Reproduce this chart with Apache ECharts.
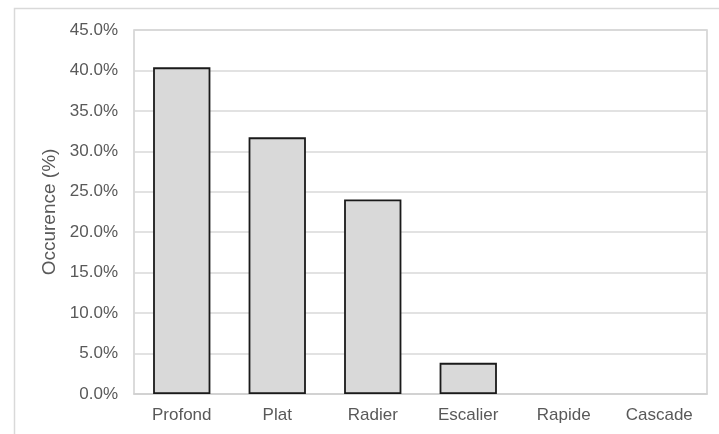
<!DOCTYPE html>
<html>
<head>
<meta charset="utf-8">
<script src="https://cdn.jsdelivr.net/npm/echarts@6/dist/echarts.min.js"></script>
<style>
  html, body { margin: 0; padding: 0; background: #ffffff; }
  #chart { width: 719px; height: 434px; }
</style>
</head>
<body>
<div id="chart"></div>
<script>
// Types d'écoulement et leur fréquence d'occurrence (%)
const categories = ['Profond', 'Plat', 'Radier', 'Escalier', 'Rapide', 'Cascade'];
const occurrence = [40.38, 31.73, 24.04, 3.85, 0, 0];
const yTicks = { min: 0, max: 45, interval: 5 };

const font = 'Liberation Sans, Arial, sans-serif';
const textGrey = '#595959';

const chart = echarts.init(document.getElementById('chart'), null, { renderer: 'canvas' });

chart.setOption({
  backgroundColor: '#ffffff',
  animation: false,
  graphic: [{
    type: 'rect',
    silent: true,
    shape: { x: 14.5, y: 8.5, width: 900, height: 600 },
    style: { fill: 'none', stroke: '#d9d9d9', lineWidth: 1.5 }
  }],
  grid: {
    left: 134, top: 30, right: 12, bottom: 40,
    show: true,
    borderColor: '#d0d0d0',
    borderWidth: 1.5,
    containLabel: false
  },
  xAxis: {
    type: 'category',
    data: categories,
    axisLine: { show: true, lineStyle: { color: '#d0d0d0', width: 1.5 } },
    axisTick: { show: false },
    axisLabel: { color: textGrey, fontFamily: font, fontSize: 17, margin: 13 }
  },
  yAxis: {
    type: 'value',
    min: yTicks.min, max: yTicks.max, interval: yTicks.interval,
    name: 'Occurence (%)',
    nameLocation: 'middle',
    nameGap: 70,
    nameRotate: 90,
    nameTextStyle: { color: textGrey, fontFamily: font, fontSize: 19 },
    axisLine: { show: false },
    axisTick: { show: false },
    splitLine: { lineStyle: { color: '#d9d9d9', width: 1.5 } },
    axisLabel: {
      color: textGrey, fontFamily: font, fontSize: 17, margin: 16,
      formatter: v => v.toFixed(1) + '%'
    }
  },
  series: [{
    type: 'bar',
    barWidth: '60%',
    data: occurrence.map(v => ({
      value: v,
      itemStyle: { borderWidth: v > 0 ? 1.8 : 0 }
    })),
    itemStyle: { color: '#d9d9d9', borderColor: '#1a1a1a', borderWidth: 1.8 }
  }]
});
</script>
</body>
</html>
